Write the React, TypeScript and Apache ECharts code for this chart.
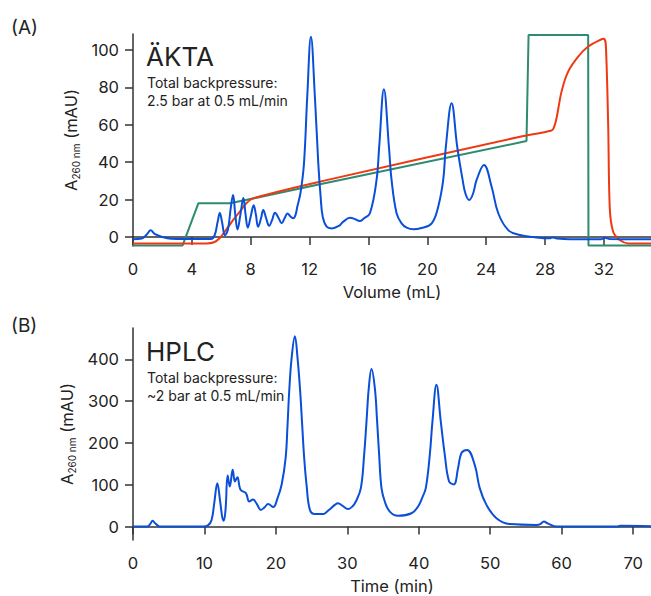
import React, { useEffect, useRef } from "react";
import * as echarts from "echarts";

// ---------- Panel A (ÄKTA) ----------
const akta_uv_x = [0, 0.6, 0.95, 1.2, 1.5, 2.0, 2.6, 3.5, 5.3, 5.55, 5.75, 5.9, 6.05, 6.25, 6.45, 6.65, 6.8, 6.95, 7.1, 7.3, 7.5, 7.65, 7.8, 8.0, 8.2, 8.35, 8.5, 8.7, 8.85, 9.05, 9.25, 9.45, 9.65, 9.9, 10.1, 10.3, 10.5, 10.7, 10.9, 11.05, 11.16, 11.39, 11.62, 11.84, 12.09, 12.36, 12.59, 12.75, 12.89, 13.16, 13.5, 14.0, 14.29, 14.74, 15.1, 15.4, 15.7, 16.1, 16.55, 16.73, 17.05, 17.39, 17.57, 17.91, 18.25, 18.6, 19.04, 19.6, 20.3, 20.74, 21.08, 21.26, 21.65, 22.03, 22.4, 22.6, 22.85, 23.1, 23.35, 23.85, 24.37, 24.82, 25.5, 26.3, 27.2, 28.3, 28.5, 28.8, 29.7, 31.8, 32.07, 32.4, 35.2];
const akta_uv_y = [-1.2, -0.8, 1.5, 3.6, 1.5, 0, -0.9, -1.1, -1.1, 1, 8, 12.8, 8, 1, 4, 16, 22.5, 12, 4, 12, 20.8, 12, 5, 11, 17, 12, 5.5, 10, 14.4, 10, 6, 9, 13, 10, 7.4, 10, 12.6, 11, 10, 12, 16, 24, 39.5, 75, 107, 75, 39.5, 21.6, 10.9, 5.5, 4.6, 6, 8.2, 10.3, 9.5, 8.5, 10, 12.7, 30.5, 48.3, 79, 48.3, 30.5, 12.7, 7.3, 5, 4.1, 4.8, 7.3, 16.2, 30.5, 48.3, 71.5, 48.3, 30.5, 23, 19.8, 23, 30.5, 38.5, 26.9, 12.7, 3.7, 1.1, 0, -0.7, -0.2, -0.8, -1.2, -1.2, -0.4, -1.1, -1.2];

const akta_cond_x = [0, 5.0, 5.5, 5.9, 6.3, 6.8, 7.3, 7.7, 8.2, 12.7, 26.3, 28.44, 28.6, 28.78, 29.12, 29.57, 30.25, 30.93, 31.73, 32.0, 32.13, 32.29, 32.4, 32.63, 33.08, 33.65, 35.2];
const akta_cond_y = [-3.4, -3.4, -2.8, -0.5, 3.5, 9, 14, 18, 20.8, 29.6, 53.6, 56.9, 58.5, 63.5, 77.7, 88.4, 96.4, 101.8, 105.3, 105.9, 102.7, 59.9, 15.3, 2.8, -1.6, -3.4, -3.4];

const akta_conc_x = [0, 3.37, 4.44, 6.59, 8.4, 12.7, 26.74, 26.88, 30.93, 30.95, 35.2];
const akta_conc_y = [-4.5, -4.5, 18, 18, 21, 28.2, 51.3, 108, 108, -4.5, -4.5];

const akta_x_ticks = [0, 4, 8, 12, 16, 20, 24, 28, 32];
const akta_y_ticks = [0, 20, 40, 60, 80, 100];

// ---------- Panel B (HPLC) ----------
const hplc_x = [0, 2.0, 2.4, 2.75, 3.1, 3.7, 4.5, 9.8, 10.5, 11.0, 11.4, 11.8, 12.2, 12.5, 12.7, 12.95, 13.25, 13.55, 13.95, 14.27, 14.6, 15.06, 15.8, 16.27, 16.8, 17.3, 17.9, 18.4, 18.92, 19.63, 20.23, 20.8, 21.36, 21.63, 21.86, 22.2, 22.66, 23.03, 23.4, 23.68, 23.96, 24.29, 24.76, 25.45, 26.6, 27.3, 28.25, 28.7, 29.3, 30.1, 30.7, 31.19, 31.89, 32.35, 32.68, 33.0, 33.38, 33.85, 34.17, 34.45, 34.78, 35.24, 35.94, 37.1, 38.98, 39.9, 40.5, 40.98, 41.54, 41.91, 42.47, 43.08, 43.64, 44.24, 44.9, 45.5, 45.97, 46.76, 47.83, 48.53, 49.47, 50.87, 52.7, 56.5, 57.0, 57.5, 58.1, 59.3, 67.7, 68.2, 72.5];
const hplc_y = [0, 0, 6, 14, 8, 0.5, 0, 0, 3, 16, 60, 104, 60, 22, 14, 40, 122, 96, 136, 108, 118, 88, 80, 60, 65, 55, 40, 46, 54, 47, 68, 100, 164, 243, 323, 403, 455, 403, 323, 243, 164, 100, 40, 30, 30, 38, 52, 56, 50, 42, 48, 60, 92, 171.5, 251, 331, 377, 331, 251, 171.5, 92, 60, 36, 26, 32, 48, 70, 92, 171.5, 251, 339, 251, 171.5, 108, 101, 140, 176, 183.5, 147.6, 92, 52, 20, 6, 4, 6, 12, 7, 0, 0, 2, 1];

const hplc_x_ticks = [0, 10, 20, 30, 40, 50, 60, 70];
const hplc_y_ticks = [0, 100, 200, 300, 400];

const zip = (xs: number[], ys: number[]) => xs.map((x, i) => [x, ys[i]]);

const FONT = "Inter";
const TXT = "#222";
const AXIS = "#333";
const BLUE = "#0a4fd8";
const RED = "#ee3a12";
const GREEN = "#2e8a70";

function yName() {
  return {
    name: "{a|A}{s|260 nm}{a| (mAU)}",
    nameLocation: "middle" as const,
    nameGap: 52,
    nameTextStyle: {
      rich: {
        a: { fontSize: 16.5, lineHeight: 20, fontFamily: FONT, color: TXT },
        s: { fontSize: 10, lineHeight: 9, fontFamily: FONT, color: TXT, verticalAlign: "bottom" },
      },
    },
  };
}

function axisCommon(ticks: number[]) {
  return {
    axisLine: { show: true, lineStyle: { color: AXIS, width: 1.5 } },
    axisTick: { show: true, length: 8, lineStyle: { color: AXIS, width: 1.5 }, customValues: ticks },
    axisLabel: { fontSize: 16.5, color: TXT, fontFamily: FONT, margin: 14, customValues: ticks },
    splitLine: { show: false },
  };
}

export default function App() {
  const ref = useRef<HTMLDivElement>(null);
  useEffect(() => {
    document.body.style.margin = "0";
    const chart = echarts.init(ref.current!, null, { renderer: "svg" });
    const option: any = {
      animation: false,
      backgroundColor: "#fff",
      grid: [
        { left: 133, top: 34, width: 518, height: 212 },
        { left: 133, top: 328, width: 518, height: 212 },
      ],
      xAxis: [
        {
          type: "value", gridIndex: 0, min: 0, max: 35.2,
          name: "Volume (mL)", nameLocation: "middle", nameGap: 37,
          nameTextStyle: { fontSize: 16.5, color: TXT, fontFamily: FONT },
          ...axisCommon(akta_x_ticks),
        },
        {
          type: "value", gridIndex: 1, min: 0, max: 72.5,
          name: "Time (min)", nameLocation: "middle", nameGap: 37,
          nameTextStyle: { fontSize: 16.5, color: TXT, fontFamily: FONT },
          ...axisCommon(hplc_x_ticks),
        },
      ],
      yAxis: [
        { type: "value", gridIndex: 0, min: -4.8, max: 108.5, ...yName(), ...axisCommon(akta_y_ticks) },
        { type: "value", gridIndex: 1, min: -32, max: 475, ...yName(), ...axisCommon(hplc_y_ticks) },
      ],
      series: [
        {
          type: "line", xAxisIndex: 0, yAxisIndex: 0, data: zip(akta_conc_x, akta_conc_y),
          showSymbol: false, lineStyle: { color: GREEN, width: 2 }, z: 2,
        },
        {
          type: "line", xAxisIndex: 0, yAxisIndex: 0, data: zip(akta_cond_x, akta_cond_y),
          showSymbol: false, smooth: 0.3, lineStyle: { color: RED, width: 2 }, z: 3,
        },
        {
          type: "line", xAxisIndex: 0, yAxisIndex: 0, data: zip(akta_uv_x, akta_uv_y),
          showSymbol: false, smooth: 0.4, lineStyle: { color: BLUE, width: 2 }, z: 4,
        },
        {
          type: "line", xAxisIndex: 1, yAxisIndex: 1, data: zip(hplc_x, hplc_y),
          showSymbol: false, smooth: 0.4, lineStyle: { color: BLUE, width: 2 }, z: 4,
        },
      ],
      graphic: [
        { type: "text", x: 11, y: 27, style: { text: "(A)", fontSize: 19, fontFamily: FONT, fill: TXT, verticalAlign: "middle" } },
        { type: "text", x: 11, y: 325, style: { text: "(B)", fontSize: 19, fontFamily: FONT, fill: TXT, verticalAlign: "middle" } },
        { type: "text", x: 146, y: 56, style: { text: "ÄKTA", fontSize: 26, fontFamily: FONT, fill: TXT, verticalAlign: "middle" } },
        { type: "text", x: 147, y: 82, style: { text: "Total backpressure:", fontSize: 14, fontFamily: FONT, fill: TXT, verticalAlign: "middle" } },
        { type: "text", x: 147, y: 100, style: { text: "2.5 bar at 0.5 mL/min", fontSize: 14, fontFamily: FONT, fill: TXT, verticalAlign: "middle" } },
        { type: "text", x: 146, y: 351, style: { text: "HPLC", fontSize: 26, fontFamily: FONT, fill: TXT, verticalAlign: "middle" } },
        { type: "text", x: 147, y: 377, style: { text: "Total backpressure:", fontSize: 14, fontFamily: FONT, fill: TXT, verticalAlign: "middle" } },
        { type: "text", x: 147, y: 395, style: { text: "~2 bar at 0.5 mL/min", fontSize: 14, fontFamily: FONT, fill: TXT, verticalAlign: "middle" } },
      ],
    };
    chart.setOption(option);
    return () => chart.dispose();
  }, []);
  return <div ref={ref} style={{ width: 651, height: 596, position: "absolute", left: 0, top: 0 }} />;
}
